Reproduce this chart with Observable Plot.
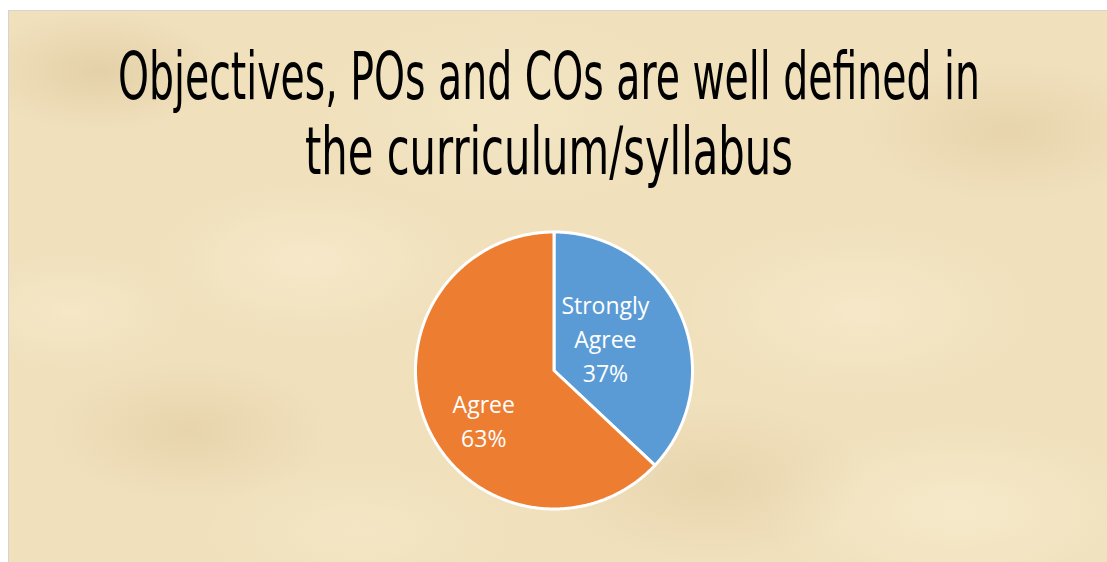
<!DOCTYPE html>
<html>
<head>
<meta charset="utf-8">
<script src="https://cdn.jsdelivr.net/npm/d3@7"></script>
<script src="https://cdn.jsdelivr.net/npm/@observablehq/plot@0.6"></script>
<style>
  html, body { margin: 0; padding: 0; background: #ffffff; }
  #page { position: relative; width: 1107px; height: 562px; overflow: hidden; background: #ffffff; }
  #bg {
    position: absolute; left: 8px; top: 10px; right: 0; bottom: 0;
    border-left: 1px solid #d4d4d4; border-top: 1px solid #d4d4d4;
    background-color: #f0e0bc;
    background-image:
      radial-gradient(ellipse 120px 60px at 90px 60px, rgba(205,180,130,0.35), rgba(205,180,130,0) 100%),
      radial-gradient(ellipse 160px 80px at 300px 250px, rgba(250,238,210,0.6), rgba(250,238,210,0) 100%),
      radial-gradient(ellipse 140px 70px at 180px 420px, rgba(210,185,135,0.3), rgba(210,185,135,0) 100%),
      radial-gradient(ellipse 180px 90px at 850px 300px, rgba(250,238,210,0.55), rgba(250,238,210,0) 100%),
      radial-gradient(ellipse 150px 70px at 1000px 120px, rgba(210,185,135,0.3), rgba(210,185,135,0) 100%),
      radial-gradient(ellipse 200px 90px at 950px 500px, rgba(250,240,212,0.6), rgba(250,240,212,0) 100%),
      radial-gradient(ellipse 160px 80px at 700px 470px, rgba(212,188,140,0.3), rgba(212,188,140,0) 100%),
      radial-gradient(ellipse 200px 100px at 500px 100px, rgba(248,236,205,0.45), rgba(248,236,205,0) 100%),
      radial-gradient(ellipse 120px 60px at 60px 300px, rgba(250,238,210,0.5), rgba(250,238,210,0) 100%),
      radial-gradient(ellipse 160px 70px at 350px 520px, rgba(248,236,205,0.5), rgba(248,236,205,0) 100%);
  }
  .title {
    position: absolute; left: 0; width: 1107px; height: 80px;
    font-family: "DejaVu Sans Condensed", "Liberation Sans Narrow", "DejaVu Sans", sans-serif;
    font-size: 66px; line-height: 66px; color: #000; white-space: nowrap;
    font-weight: normal;
  }
  .title span { position: absolute; left: 549px; top: 0; transform-origin: 0 50%; }
  #chart { position: absolute; left: 0; top: 220px; }
</style>
</head>
<body>
<div id="page">
  <div id="bg"></div>
  <div class="title" id="t1" style="top:44px"><span>Objectives, POs and COs are well defined in</span></div>
  <div class="title" id="t2" style="top:119px"><span>the curriculum/syllabus</span></div>
  <div id="chart"></div>
</div>
<script>
// ---- data ----
const categories = ["Strongly Agree", "Agree"];
const values = [37, 63];
const colors = ["#5B9BD5", "#ED7D31"];

// fit title lines to the reference widths, centred on the page
const titleWidths = [862, 488];
["t1", "t2"].forEach((id, i) => {
  const s = document.querySelector("#" + id + " span");
  const w = s.getBoundingClientRect().width;
  const k = titleWidths[i] / w;
  s.style.transform = `translateX(${-titleWidths[i] / 2}px) scaleX(${k})`;
});

const data = categories.map((c, i) => ({category: c, value: values[i], color: colors[i]}));
const arcs = d3.pie().sort(null).value(d => d.value)(data);

// polygon points for each slice in unit circle (y up, angle clockwise from top)
const pts = [];
arcs.forEach(a => {
  const cat = a.data.category;
  pts.push({category: cat, x: 0, y: 0});
  const n = Math.max(8, Math.ceil((a.endAngle - a.startAngle) / 0.01));
  for (let k = 0; k <= n; k++) {
    const t = a.startAngle + (a.endAngle - a.startAngle) * k / n;
    pts.push({category: cat, x: Math.sin(t), y: Math.cos(t)});
  }
});

const labelFrac = [0.42, 0.6];
const labels = arcs.map((a, i) => {
  const m = (a.startAngle + a.endAngle) / 2;
  return {
    category: a.data.category,
    x: labelFrac[i] * Math.sin(m),
    y: labelFrac[i] * Math.cos(m),
    text: a.data.category.split(" ").join("\n") + "\n" + a.data.value + "%"
  };
});

const labelOffsets = [[-2, -10], [6, 16]];

const chart = Plot.plot({
  width: 1107,
  height: 300,
  margin: 0,
  style: {background: "transparent", overflow: "visible"},
  x: {domain: [-1, 1], range: [415, 692], axis: null},
  y: {domain: [-1, 1], range: [288.5, 11.5], axis: null},
  marks: [
    ...data.map(d => Plot.line(pts.filter(p => p.category === d.category), {
      x: "x", y: "y", fill: d.color, stroke: "white", strokeWidth: 3,
      strokeLinejoin: "round", curve: "linear-closed"
    })),
    ...labels.map((l, i) => Plot.text([l], {
      x: "x", y: "y", text: "text", fill: "white",
      fontSize: 23, lineHeight: 1.48, lineAnchor: "middle", textAnchor: "middle",
      fontFamily: "'Open Sans', 'Noto Sans', sans-serif",
      dx: labelOffsets[i][0], dy: labelOffsets[i][1]
    }))
  ]
});
document.getElementById("chart").appendChild(chart);
</script>
</body>
</html>
